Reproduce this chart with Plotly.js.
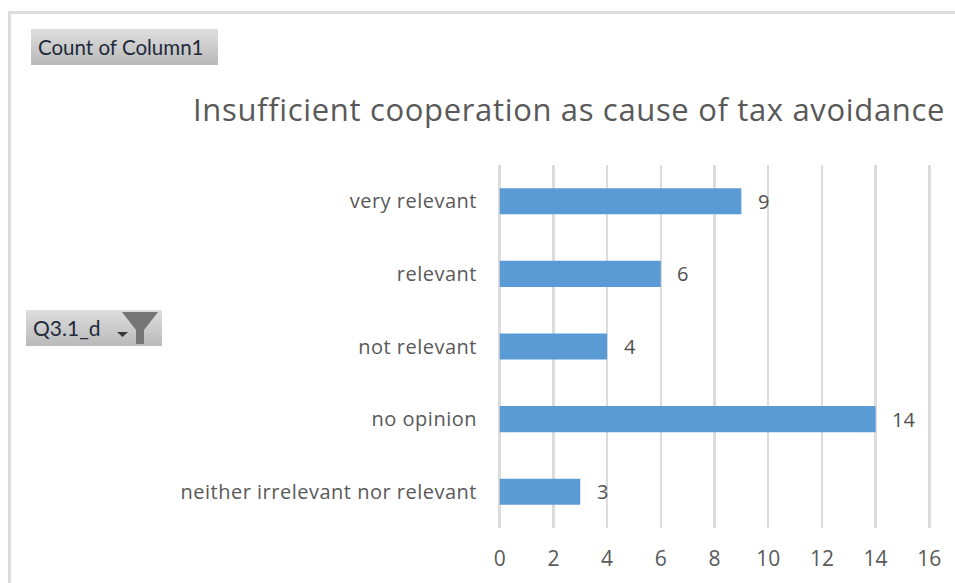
<!DOCTYPE html>
<html>
<head>
<meta charset="utf-8">
<script src="https://cdn.plot.ly/plotly-3.0.1.min.js"></script>
<style>
html,body{margin:0;padding:0;background:#fff;overflow:hidden}
#frame{position:absolute;left:8px;top:11px;width:960px;height:600px;border:3px solid #dcdcdc;box-sizing:border-box;pointer-events:none}
#chart{position:absolute;left:0;top:0;width:955px;height:583px}
.btn{position:absolute;background:linear-gradient(#dedede,#b9b9b9);font-family:Lato,sans-serif;color:#1f2a3a;white-space:nowrap;line-height:36px;box-sizing:border-box;padding-left:7px}
#b1{left:31px;top:29px;width:187px;height:36px;font-size:20.5px}
#b2{left:26px;top:310px;width:136px;height:36px;font-size:21px}
.gtitle{letter-spacing:.66px}
.ytick text{letter-spacing:.5px}
</style>
</head>
<body>
<div id="chart"></div>
<div id="frame"></div>
<div class="btn" id="b1">Count of Column1</div>
<div class="btn" id="b2">Q3.1_d
<svg style="position:absolute;left:0;top:0" width="136" height="36"><path d="M96 2H132L118 20V34H110V20Z" fill="#757575"/><path d="M91 22H102L96.5 27Z" fill="#3a3a3a"/></svg>
</div>
<script>
const categories = ["neither irrelevant nor relevant", "no opinion", "not relevant", "relevant", "very relevant"];
const counts = [3, 14, 4, 6, 9];
const xTicks = [0, 2, 4, 6, 8, 10, 12, 14, 16];
const titleText = "Insufficient cooperation as cause of tax avoidance";

const W = 955, H = 583;
const annotations = categories.map((c, i) => ({
  x: counts[i], y: c, xref: "x", yref: "y", text: String(counts[i]),
  showarrow: false, xanchor: "left", xshift: 14.5,
  font: {family: '"Open Sans", sans-serif', size: 20, color: "#505050"}
}));

Plotly.newPlot("chart", [{
  type: "bar", orientation: "h", y: categories, x: counts,
  width: 0.36, marker: {color: "#5b9bd5", line: {width: 0}},
  hoverinfo: "x+y"
}], {
  width: W, height: H,
  margin: {l: 497.4, r: 22.8, t: 165, b: 55, pad: 0},
  paper_bgcolor: "#fff", plot_bgcolor: "#fff",
  showlegend: false,
  title: {text: titleText, x: 193 / W, xanchor: "left", y: 1 - 110.5 / H, yanchor: "middle",
    font: {family: '"Open Sans", sans-serif', size: 31, color: "#595959"}},
  xaxis: {range: [-0.1, 16.1], tickvals: xTicks, ticktext: xTicks.map(String), tickmode: "array",
    showgrid: true, gridcolor: "#dcdcdc", gridwidth: 2.5, zeroline: false, showline: false, ticks: "",
    ticklabelstandoff: 16,
    tickfont: {family: '"Open Sans", sans-serif', size: 21, color: "#595959"}, automargin: false},
  yaxis: {type: "category", categoryorder: "array", categoryarray: categories,
    showgrid: false, zeroline: false, showline: false, ticks: "", ticklabelstandoff: 19,
    tickfont: {family: '"Open Sans", sans-serif', size: 20, color: "#595959"}, automargin: false},
  annotations
}, {displayModeBar: false, staticPlot: true});
</script>
</body>
</html>
